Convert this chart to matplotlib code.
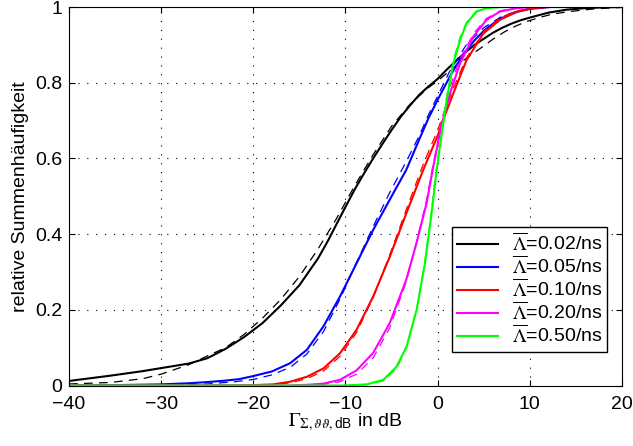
import matplotlib
matplotlib.use("Agg")
import matplotlib.pyplot as plt

plt.rcParams['font.family'] = ['Liberation Sans', 'DejaVu Sans']
plt.rcParams['mathtext.fontset'] = 'custom'
plt.rcParams['mathtext.rm'] = 'STIXGeneral'
plt.rcParams['mathtext.it'] = 'STIXGeneral:italic'
plt.rcParams['mathtext.bf'] = 'STIXGeneral:bold'
plt.rcParams['mathtext.sf'] = 'Liberation Sans'

# Empirical CDFs (solid) and fitted CDFs (dashed), x in dB
blk_x = [-40, -35.5, -32, -30, -27, -25, -23, -21, -19, -17, -15, -13, -12, -11, -10, -9, -8, -7, -6, -5, -4, -3, -2, -1, 0, 1, 2, 3, 4, 5, 6, 7, 8, 9, 10, 12, 14, 16, 18, 20]
blk_y = [0.012, 0.026, 0.038, 0.046, 0.058, 0.072, 0.097, 0.128, 0.165, 0.212, 0.265, 0.335, 0.378, 0.425, 0.472, 0.518, 0.56, 0.6, 0.638, 0.675, 0.71, 0.74, 0.768, 0.79, 0.81, 0.835, 0.858, 0.88, 0.9, 0.916, 0.932, 0.945, 0.956, 0.965, 0.972, 0.985, 0.993, 0.997, 0.999, 1.0]
blk_fx = [-40, -35.5, -32, -30, -27, -25, -23, -21, -19, -17, -15, -13, -11, -9, -7, -5, -3, -1, 0, 2, 4, 5, 6, 7.3, 8.5, 9.7, 11, 12.4, 14, 15.4, 17, 18.5, 20]
blk_fy = [0.004, 0.008, 0.018, 0.03, 0.055, 0.078, 0.1, 0.135, 0.178, 0.228, 0.288, 0.36, 0.44, 0.528, 0.61, 0.685, 0.743, 0.787, 0.805, 0.845, 0.88, 0.897, 0.915, 0.935, 0.95, 0.962, 0.972, 0.981, 0.987, 0.991, 0.995, 0.997, 0.999]

blu_x = [-40, -35, -30, -27, -25, -23, -21.5, -20, -18, -16, -14.2, -12.4, -10.6, -8.8, -7, -5.2, -3.4, -2, -1, 0, 1.3, 2, 3.1, 4, 5, 6, 6.8, 8.6, 10, 12.2, 14]
blu_y = [0, 0.001, 0.003, 0.006, 0.009, 0.013, 0.017, 0.025, 0.037, 0.059, 0.094, 0.156, 0.235, 0.323, 0.411, 0.491, 0.57, 0.65, 0.706, 0.755, 0.815, 0.845, 0.885, 0.912, 0.937, 0.956, 0.969, 0.987, 0.995, 1.0, 1.0]
blu_fx = [-40, -30, -25, -22, -20, -18, -16, -14.2, -12.4, -10.6, -8.8, -7, -5.2, -3.4, -2, -1, 0, 1.3, 3.1, 5, 6.8, 8.6, 10, 12]
blu_fy = [0, 0.001, 0.004, 0.01, 0.016, 0.028, 0.048, 0.083, 0.142, 0.228, 0.325, 0.42, 0.51, 0.592, 0.66, 0.715, 0.765, 0.83, 0.9, 0.945, 0.973, 0.989, 0.996, 1.0]

red_x = [-40, -25, -22, -20, -17.85, -16, -14.2, -12.4, -10.6, -8.8, -7, -5.2, -3.4, -1.56, 0, 0.6, 1.7, 3.14, 4.95, 6.76, 8.6, 10.4, 12]
red_y = [0, 0, 0.0005, 0.001, 0.003, 0.01, 0.023, 0.045, 0.085, 0.147, 0.235, 0.34, 0.455, 0.57, 0.66, 0.702, 0.772, 0.86, 0.93, 0.966, 0.988, 0.997, 1.0]
red_fx = [-22, -18, -16, -14.2, -12.4, -10.6, -8.8, -7, -5.2, -3.4, -1.56, 0, 0.6, 1.7, 3.1, 5, 6.8, 8.6, 11]
red_fy = [0, 0.002, 0.007, 0.018, 0.038, 0.077, 0.14, 0.232, 0.345, 0.465, 0.585, 0.675, 0.715, 0.785, 0.865, 0.935, 0.972, 0.99, 0.999]

mag_x = [-40, -16, -14, -12.4, -10.6, -8.8, -7, -5.2, -3.4, -2.3, -1.2, -0.54, 0.43, 1.34, 2.43, 3.87, 5.3, 6.76, 8.6, 10, 12]
mag_y = [0, 0, 0.002, 0.005, 0.015, 0.04, 0.086, 0.165, 0.28, 0.376, 0.482, 0.57, 0.69, 0.772, 0.851, 0.922, 0.966, 0.988, 0.997, 1.0, 1.0]
mag_fx = [-16, -12.4, -10.6, -8.8, -7, -5.2, -3.4, -2.3, -1.2, -0.54, 0.43, 1.3, 2.4, 3.9, 5.3, 6.8, 8.6]
mag_fy = [0, 0.003, 0.01, 0.03, 0.073, 0.152, 0.275, 0.378, 0.49, 0.578, 0.695, 0.785, 0.862, 0.93, 0.97, 0.99, 0.999]

grn_x = [-40, -10, -7.7, -5.9, -4.45, -3.37, -2.28, -1.38, -0.66, -0.11, 0.5, 0.98, 1.7, 2.43, 3.14, 4.23, 5.3, 7, 10]
grn_y = [0, 0, 0.003, 0.015, 0.05, 0.103, 0.2, 0.323, 0.455, 0.57, 0.675, 0.754, 0.851, 0.913, 0.957, 0.988, 0.997, 1.0, 1.0]
grn_fx = [-10, -7.7, -5.9, -4.45, -3.37, -2.28, -1.38, -0.66, -0.11, 0.5, 0.98, 1.7, 2.43, 3.14, 4.23, 5.3]
grn_fy = [0, 0.002, 0.012, 0.045, 0.1, 0.2, 0.33, 0.465, 0.58, 0.685, 0.765, 0.86, 0.92, 0.96, 0.99, 0.998]

labels = ['0.02', '0.05', '0.10', '0.20', '0.50']
colors = ['#000000', '#0000ff', '#ff0000', '#ff00ff', '#00ff00']

series = [
    (blk_x, blk_y, blk_fx, blk_fy),
    (blu_x, blu_y, blu_fx, blu_fy),
    (red_x, red_y, red_fx, red_fy),
    (mag_x, mag_y, mag_fx, mag_fy),
    (grn_x, grn_y, grn_fx, grn_fy),
]

x_ticks = [-40, -30, -20, -10, 0, 10, 20]
y_ticks = [0, 0.2, 0.4, 0.6, 0.8, 1.0]
y_ticklabels = ['0', '0.2', '0.4', '0.6', '0.8', '1']

FS = 14

fig = plt.figure(figsize=(6.33, 4.46), dpi=100)
ax = fig.add_axes([69 / 633, 1 - 385.5 / 446, 553 / 633, 378.5 / 446])

handles = []
for (sx, sy, fx, fy), c, lab in zip(series, colors, labels):
    h, = ax.plot(sx, sy, color=c, lw=1.5, solid_joinstyle='round',
                 label=r'$\overline{\Lambda}$=' + lab + '/ns')
    ax.plot(fx, fy, color=c, lw=0.9, linestyle=(0, (7, 5)))
    handles.append(h)

ax.set_xlim(-40, 20)
ax.set_ylim(0, 1)
ax.set_xticks(x_ticks)
ax.set_xticklabels(['\u2212' + str(-t) if t < 0 else str(t) for t in x_ticks])
ax.set_yticks(y_ticks)
ax.set_yticklabels(y_ticklabels)

ax.grid(True, color='black', linestyle=(0, (1, 7)), linewidth=0.8)
ax.tick_params(direction='in', top=True, right=True, length=4, width=0.8,
               labelsize=FS, colors='black')
ax.tick_params(axis='x', pad=7.5)
ax.tick_params(axis='y', pad=5)
for s in ax.spines.values():
    s.set_linewidth(0.8)

ax.set_xlabel(r'$\Gamma_{\Sigma,\vartheta\vartheta,\mathsf{dB}}$ in dB', fontsize=FS, labelpad=-1)
ax.set_ylabel('relative Summenhäufigkeit', fontsize=FS, labelpad=4)

leg = ax.legend(handles=handles, loc='lower right', bbox_to_anchor=(0.973, 0.089),
                fontsize=FS, frameon=True, fancybox=False, shadow=False,
                framealpha=1, edgecolor='black', handlelength=2.1,
                labelspacing=0.02, borderpad=0.25, handletextpad=0.7,
                borderaxespad=0)
leg.get_frame().set_linewidth(1.0)

fig.savefig('out.png', dpi=100)
